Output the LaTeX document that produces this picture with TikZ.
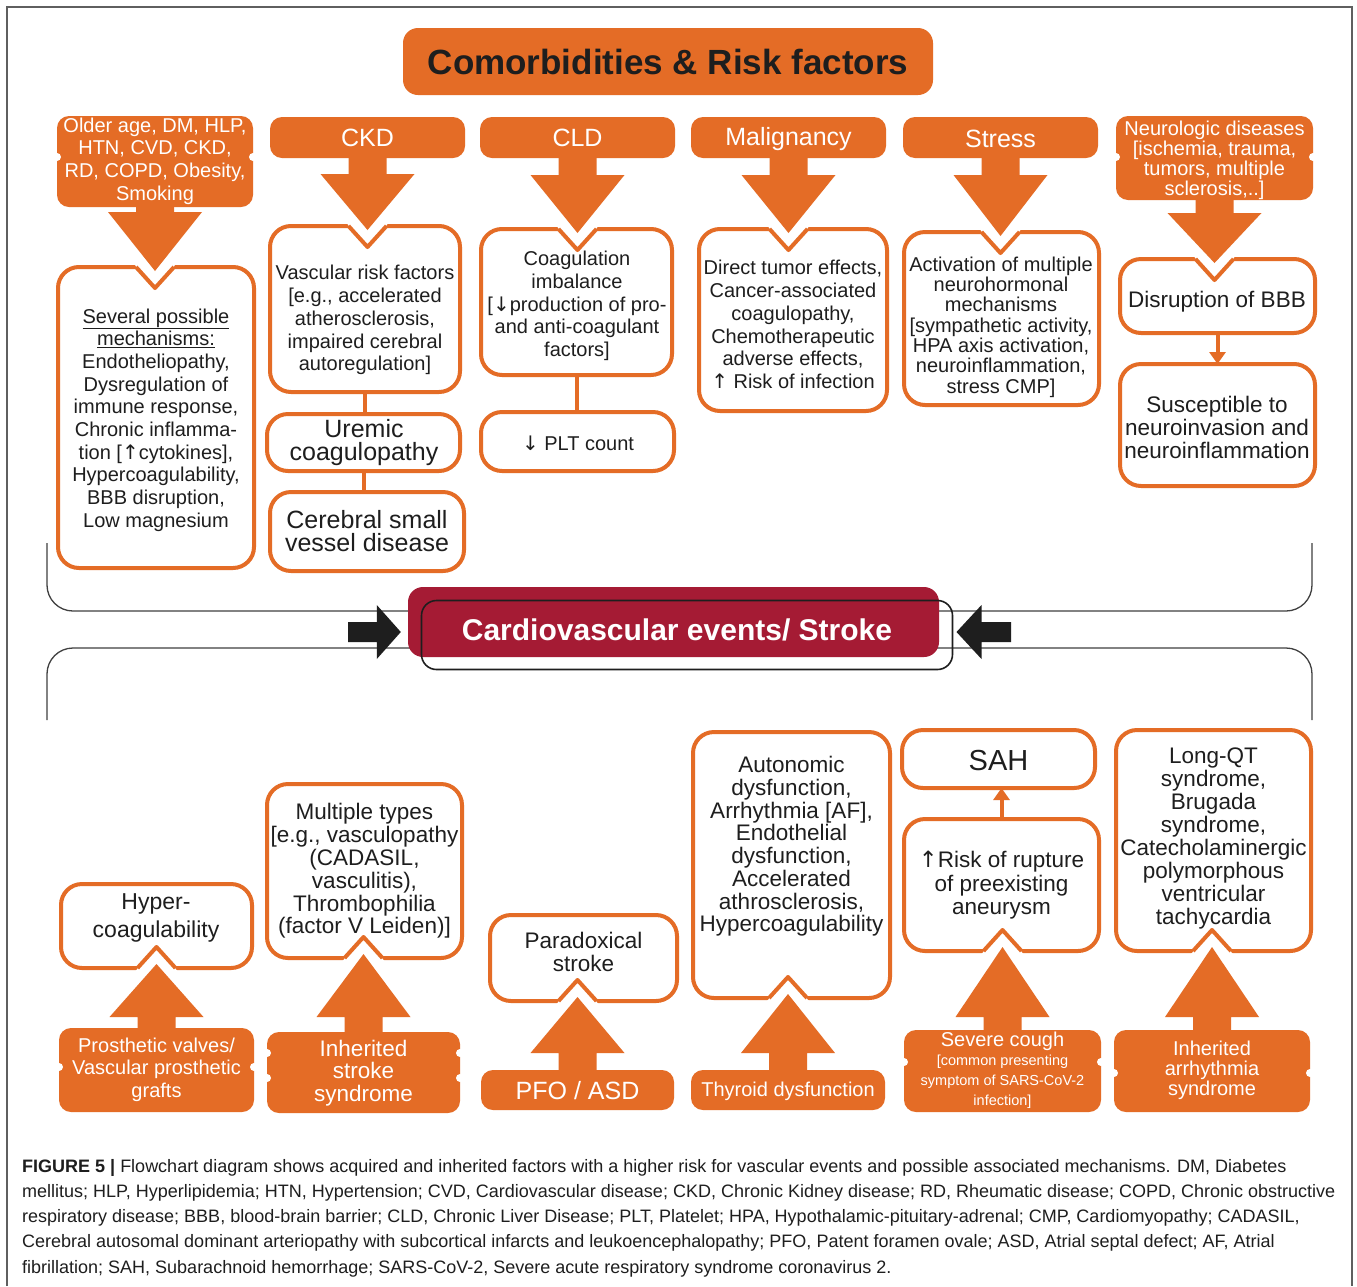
\documentclass[tikz,border=0pt]{standalone}
\usepackage{fontspec}
\setmainfont{Liberation Sans}
\newfontfamily\dejavu{DejaVu Sans}
\usetikzlibrary{calc,arrows.meta}
\definecolor{orng}{RGB}{228,108,38}
\definecolor{cvred}{RGB}{165,27,52}
\definecolor{frm}{RGB}{95,95,95}
\definecolor{ink}{RGB}{30,30,30}
\newcommand{\fs}[2]{\fontsize{#1}{#2}\selectfont}
\newcommand{\ua}{{\dejavu ↑}}
\newcommand{\da}{{\dejavu ↓}}
% white box: name, x1, y1, x2, y2 (outer edges, px)
\newcommand{\wb}[5]{\node[wbox, minimum width={#4-#2-4}, minimum height={#5-#3-4}] (#1) at ({(#2+#4)/2},{(#3+#5)/2}) {};}
% orange box
\newcommand{\ob}[5]{\node[obox, minimum width={#4-#2}, minimum height={#5-#3}] (#1) at ({(#2+#4)/2},{(#3+#5)/2}) {};}
% side notch of a two-lobed orange box: box, y
\newcommand{\lobe}[2]{\fill[white] let \p1=(#1.west), \p2=(#1.east) in (\x1,{-#2pt}) circle (4pt) (\x2,{-#2pt}) circle (4pt);}
% down block arrow: source, target, head base y
\newcommand{\dnarr}[3]{%
 \fill[white] let \p1=(#1.south), \p2=(#2.north) in ({\x1-21pt},{\y2+3pt}) -- ({\x1+21pt},{\y2+3pt}) -- (\x1,{\y2-21pt}) -- cycle;
 \draw[orng, line width=4pt, line join=round] let \p1=(#1.south), \p2=(#2.north) in ({\x1-19pt},\y2) -- (\x1,{\y2-21pt}) -- ({\x1+19pt},\y2);
 \fill[orng] let \p1=(#1.south), \p2=(#2.north) in ({\x1-19pt},{\y1+1pt}) -- ({\x1-19pt},{-#3pt}) -- ({\x1-47pt},{-#3pt}) -- (\x1,{\y2-4pt}) -- ({\x1+47pt},{-#3pt}) -- ({\x1+19pt},{-#3pt}) -- ({\x1+19pt},{\y1+1pt}) -- cycle;}
% up block arrow: source, target, head base y
\newcommand{\uparr}[3]{%
 \fill[white] let \p1=(#1.north), \p2=(#2.south) in ({\x1-21pt},{\y2-3pt}) -- ({\x1+21pt},{\y2-3pt}) -- (\x1,{\y2+21pt}) -- cycle;
 \draw[orng, line width=4pt, line join=round] let \p1=(#1.north), \p2=(#2.south) in ({\x1-19pt},\y2) -- (\x1,{\y2+21pt}) -- ({\x1+19pt},\y2);
 \fill[orng] let \p1=(#1.north), \p2=(#2.south) in ({\x1-19pt},{\y1-1pt}) -- ({\x1-19pt},{-#3pt}) -- ({\x1-47pt},{-#3pt}) -- (\x1,{\y2+4pt}) -- ({\x1+47pt},{-#3pt}) -- ({\x1+19pt},{-#3pt}) -- ({\x1+19pt},{\y1-1pt}) -- cycle;}
\begin{document}
\begin{tikzpicture}[x=1pt,y=-1pt,
  wbox/.style={draw=orng, line width=4pt, fill=white, rounded corners=21pt, inner sep=0pt, outer sep=0pt},
  obox/.style={fill=orng, rounded corners=12pt, inner sep=0pt, outer sep=0pt},
  txt/.style={align=center, inner sep=0pt, text=ink},
  wtxt/.style={align=center, inner sep=0pt, text=white},
  link/.style={draw=orng, line width=4pt},
  brace/.style={draw=ink!85, line width=1.3pt, rounded corners=26pt},
  caption/.style={anchor=base west, inner sep=0pt, text=ink, font={\fs{18}{21}}}]
\useasboundingbox (0,0) rectangle (1357,1286);
\fill[white] (0,0) rectangle (1357,1286);
\draw[frm, line width=1.5pt] (7,1286) -- (7,7) -- (1352,7) -- (1352,1286);

% ---------- title
\node[obox, rounded corners=15pt, minimum width=530, minimum height=67] (title) at (668,61.5) {};
\node[txt, font={\bfseries\fs{35}{40}}] (titleT) at (668,62) {Comorbidities \& Risk factors};

% ---------- top headers
\ob{older}{57}{116}{253}{207}
\ob{ckd}{270}{117}{465}{158}
\ob{cld}{480}{117}{675}{158}
\ob{malig}{691}{117}{886}{158}
\ob{stress}{903}{117}{1098}{158}
\ob{neuro}{1116}{116}{1313}{200}
\lobe{older}{157}
\lobe{neuro}{157}

% ---------- top white boxes
\wb{mech}{56}{265}{256}{570}
\wb{vasc}{268}{224}{462}{394}
\wb{coag}{479}{227}{674}{377}
\wb{malb}{697}{227}{889}{413}
\wb{actb}{902}{230}{1101}{407}
\wb{disr}{1118}{257}{1317}{335}
\wb{susc}{1118}{362}{1317}{488}
\wb{urem}{265}{412}{462}{473}
\wb{cereb}{268}{490}{466}{573}
\wb{plt}{479}{410}{676}{473}

\draw[link] (vasc.south) -- (vasc.south |- urem.north);
\draw[link] (urem.south) -- (urem.south |- cereb.north);
\draw[link] (coag.south) -- (coag.south |- plt.north);
\draw[link, -{Triangle[length=12pt,width=16pt]}] (disr.south) -- (disr.south |- susc.north);

\dnarr{older}{mech}{212}
\dnarr{ckd}{vasc}{174}
\dnarr{cld}{coag}{175}
\dnarr{malig}{malb}{175}
\dnarr{stress}{actb}{175}
\dnarr{neuro}{disr}{213}

% ---------- braces and central event
\draw[brace] (47,543) -- (47,611) -- (1312,611) -- (1312,543);
\draw[brace] (47,720) -- (47,648) -- (1312,648) -- (1312,720);
\node[fill=cvred, rounded corners=15pt, minimum width=531, minimum height=70, inner sep=0pt] (cv) at (673.5,622) {};
\node[draw=ink, line width=1.6pt, rounded corners=15pt, minimum width=531, minimum height=69, inner sep=0pt, outer sep=0pt] (cvo) at (687,635) {};
\node[wtxt, font={\bfseries\fs{30}{34}}] (cvT) at (677,630) {Cardiovascular events/ Stroke};
\coordinate (lsrc) at (348,632);
\coordinate (rsrc) at (1011,632);
\fill[ink] let \p1=(lsrc), \p2=(cv.west) in (\x1,{\y1+10pt}) -- ({\x2-31pt},{\y1+10pt}) -- ({\x2-31pt},{\y1+27pt}) -- ({\x2-7pt},\y1) -- ({\x2-31pt},{\y1-27pt}) -- ({\x2-31pt},{\y1-10pt}) -- (\x1,{\y1-10pt}) -- cycle;
\fill[ink] let \p1=(rsrc), \p2=(cvo.east) in (\x1,{\y1+10pt}) -- ({\x2+29pt},{\y1+10pt}) -- ({\x2+29pt},{\y1+27pt}) -- ({\x2+4pt},\y1) -- ({\x2+29pt},{\y1-27pt}) -- ({\x2+29pt},{\y1-10pt}) -- (\x1,{\y1-10pt}) -- cycle;

% ---------- bottom boxes
\wb{hyper}{59}{882}{254}{970}
\wb{multi}{265}{782}{464}{960}
\wb{parad}{488}{913}{679}{1003}
\wb{auton}{691}{730}{892}{1000}
\wb{sah}{900}{728}{1097}{790}
\wb{risk}{902}{817}{1101}{953}
\wb{lqt}{1114}{728}{1313}{953}
\draw[link, -{Triangle[length=12pt,width=16pt]}] (risk.north) -- (risk.north |- sah.south);

\ob{prost}{59}{1028}{254}{1112}
\ob{inhs}{267}{1032}{460}{1113}
\ob{pfo}{481}{1070}{674}{1110}
\ob{thyr}{691}{1070}{885}{1110}
\ob{cough}{904}{1030}{1101}{1112}
\ob{inha}{1114}{1030}{1310}{1112}
\lobe{prost}{1067}
\lobe{inhs}{1053}
\lobe{inhs}{1078}
\lobe{cough}{1062}
\lobe{inha}{1073}

\uparr{prost}{hyper}{1017}
\uparr{inhs}{multi}{1017}
\uparr{pfo}{parad}{1053}
\uparr{thyr}{auton}{1053}
\uparr{cough}{risk}{1017}
\uparr{inha}{lqt}{1017}

% ---------- texts (top)
\node[wtxt, font={\fs{20}{22.6}}] (olderT) at (155,161) {Older age, DM, HLP,\\HTN, CVD, CKD,\\RD, COPD, Obesity,\\Smoking};
\node[wtxt, font={\fs{25}{28}}] (ckdT) at (367.5,138) {CKD};
\node[wtxt, font={\fs{25}{28}}] (cldT) at (577.5,138) {CLD};
\node[wtxt, font={\fs{25}{28}}] (maligT) at (788.5,139) {Malignancy};
\node[wtxt, font={\fs{25}{28}}] (stressT) at (1000.5,139) {Stress};
\node[wtxt, font={\fs{20}{20}}] (neuroT) at (1214.5,160) {Neurologic diseases\\{[}ischemia, trauma,\\tumors, multiple\\sclerosis,..{]}};

\node[txt, font={\fs{20}{22.7}}] (mechT) at (156,420) {\underline{Several possible}\\\underline{mechanisms:}\\Endotheliopathy,\\Dysregulation of\\immune response,\\Chronic inflamma-\\tion [\ua cytokines],\\Hypercoagulability,\\BBB disruption,\\Low magnesium};
\node[txt, font={\fs{20}{22.9}}] (vascT) at (365,320) {Vascular risk factors\\{[}e.g., accelerated\\atherosclerosis,\\impaired cerebral\\autoregulation{]}};
\node[txt, font={\fs{25}{23}}] (uremT) at (364,443) {Uremic\\coagulopathy};
\node[txt, font={\fs{25}{23}}] (cerebT) at (367,531) {Cerebral small\\vessel disease};
\node[txt, font={\fs{20}{22.7}}] (coagT) at (577,306) {Coagulation\\imbalance\\{[}\da production of pro-\\and anti-coagulant\\factors{]}};
\node[txt, font={\fs{20}{22}}] (pltT) at (578,443) {\da\ PLT count};
\node[txt, font={\fs{20}{22.7}}] (malbT) at (793,324.5) {Direct tumor effects,\\Cancer-associated\\coagulopathy,\\Chemotherapeutic\\adverse effects,\\\ua\ Risk of infection};
\node[txt, font={\fs{20}{20.3}}] (actbT) at (1001,327) {Activation of multiple\\neurohormonal\\mechanisms\\{[}sympathetic activity,\\HPA axis activation,\\neuroinflammation,\\stress CMP{]}};
\node[txt, font={\fs{22.5}{23}}] (disrT) at (1217,302) {Disruption of BBB};
\node[txt, font={\fs{22.5}{23}}] (suscT) at (1217,427) {Susceptible to\\neuroinvasion and\\neuroinflammation};

% ---------- texts (bottom)
\node[txt, font={\fs{23}{28}}] (hyperT) at (156,918) {Hyper-\\coagulability};
\node[txt, font={\fs{22.5}{22.8}}] (multiT) at (364.5,871) {Multiple types\\{[}e.g., vasculopathy\\(CADASIL,\\vasculitis),\\Thrombophilia\\(factor V Leiden){]}};
\node[txt, font={\fs{22.5}{23}}] (paradT) at (583.5,951.5) {Paradoxical\\stroke};
\node[txt, font={\fs{22.5}{22.7}}] (autonT) at (791.5,846.5) {Autonomic\\dysfunction,\\Arrhythmia [AF],\\Endothelial\\dysfunction,\\Accelerated\\athrosclerosis,\\Hypercoagulability};
\node[txt, font={\fs{29}{30}}] (sahT) at (998.5,761) {SAH};
\node[txt, font={\fs{22.5}{23.5}}] (riskT) at (1001.5,885.5) {\ua Risk of rupture\\of preexisting\\aneurysm};
\node[txt, font={\fs{22.5}{23}}] (lqtT) at (1213.5,838.5) {Long-QT\\syndrome,\\Brugada\\syndrome,\\Catecholaminergic\\polymorphous\\ventricular\\tachycardia};

\node[wtxt, font={\fs{20}{22.5}}] (prostT) at (156.5,1069.5) {Prosthetic valves/\\Vascular prosthetic\\grafts};
\node[wtxt, font={\fs{22.5}{22.5}}] (inhsT) at (363.5,1073) {Inherited\\stroke\\syndrome};
\node[wtxt, font={\fs{25}{28}}] (pfoT) at (577.5,1091) {PFO / ASD};
\node[wtxt, font={\fs{20}{22}}] (thyrT) at (788,1091) {Thyroid dysfunction};
\node[wtxt, font={\fs{20}{22}}] (coughT) at (1002.5,1041) {Severe cough};
\node[wtxt, font={\fs{14.5}{20}}] (coughS) at (1002.5,1082) {{[}common presenting\\symptom of SARS-CoV-2\\infection{]}};
\node[wtxt, font={\fs{20}{20}}] (inhaT) at (1212,1070) {Inherited\\arrhythmia\\syndrome};

% ---------- caption
\node[caption] (cap1) at (22,1172) {\textbf{FIGURE 5 |} Flowchart diagram shows acquired and inherited factors with a higher risk for vascular events and possible associated mechanisms. DM, Diabetes};
\node[caption] (cap2) at (22,1197.3) {mellitus; HLP, Hyperlipidemia; HTN, Hypertension; CVD, Cardiovascular disease; CKD, Chronic Kidney disease; RD, Rheumatic disease; COPD, Chronic obstructive};
\node[caption] (cap3) at (22,1222.6) {respiratory disease; BBB, blood-brain barrier; CLD, Chronic Liver Disease; PLT, Platelet; HPA, Hypothalamic-pituitary-adrenal; CMP, Cardiomyopathy; CADASIL,};
\node[caption] (cap4) at (22,1247.9) {Cerebral autosomal dominant arteriopathy with subcortical infarcts and leukoencephalopathy; PFO, Patent foramen ovale; ASD, Atrial septal defect; AF, Atrial};
\node[caption] (cap5) at (22,1273.2) {fibrillation; SAH, Subarachnoid hemorrhage; SARS-CoV-2, Severe acute respiratory syndrome coronavirus 2.};
\end{tikzpicture}
\end{document}
